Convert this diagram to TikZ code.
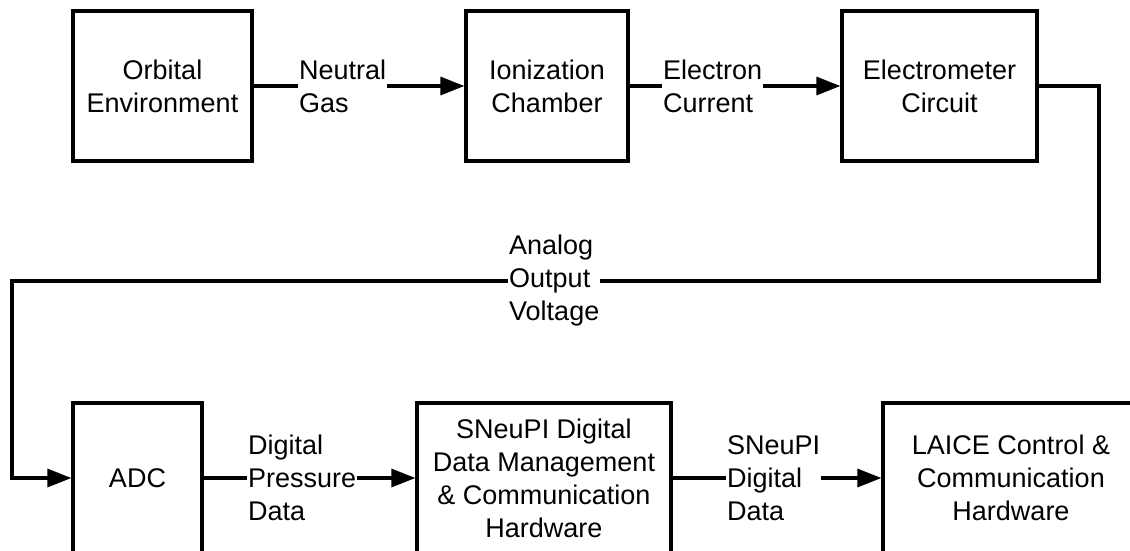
\documentclass[tikz,border=0pt]{standalone}
\usepackage{fontspec}
\setmainfont{Liberation Sans}
\usetikzlibrary{arrows.meta}
\begin{document}
\begin{tikzpicture}[x=1pt,y=-1pt,font=\fontsize{27}{33}\selectfont]

  % Definitions
  \tikzstyle{Block} = [rectangle, minimum height=150pt, text centered, align=center, draw=black, line width=3.2pt, inner sep=0pt]
  \tikzstyle{Label} = [align=left, inner sep=1pt, anchor=west]
  \tikzstyle{line} = [line width=3.2pt]
  \tikzstyle{arrow} = [line width=3.2pt,-{Triangle[length=24pt,width=18pt]}]

  \useasboundingbox (0,0) rectangle (1130,550);
  \clip (0,0) rectangle (1130,550);

  \node (Orb) [Block, minimum width=179pt] at (162.5,86) {Orbital\\Environment};
  \node (Ion) [Block, minimum width=162pt] at (547,86) {Ionization\\Chamber};
  \node (Elec) [Block, minimum width=195pt] at (939.5,86) {Electrometer\\Circuit};
  \node (ADC) [Block, minimum width=129pt] at (137.5,478) {ADC};
  \node (SDM) [Block, minimum width=254pt] at (544,478) {SNeuPI Digital\\Data Management\\\& Communication\\Hardware};
  \node (LAICE) [Block, minimum width=256pt] at (1011,478) {LAICE Control \&\\Communication\\Hardware};

  \node (gas) [Label] at (298,86) {Neutral\\Gas};
  \node (cur) [Label] at (662,86) {Electron\\Current};
  \node (volt) [Label] at (508,281) {Analog\\Output\\Voltage};
  \node (pres) [Label] at (247,478) {Digital\\Pressure\\Data};
  \node (sdat) [Label] at (726,478) {SNeuPI\\Digital\\Data};

  \coordinate (turnR) at (1099,281);
  \coordinate (turnL) at (12,281);

  \draw [line] (Orb) -- (gas);
  \draw [arrow] (gas) -- (Ion);
  \draw [line] (Ion) -- (cur);
  \draw [arrow] (cur) -- (Elec);
  \draw [line] (Elec.east) -| (turnR) -- (volt.east);
  \draw [arrow] (volt.west) -- (turnL) |- (ADC.west);
  \draw [line] (ADC) -- (pres);
  \draw [arrow] (pres) -- (SDM);
  \draw [line] (SDM) -- (sdat);
  \draw [arrow] (sdat) -- (LAICE);

\end{tikzpicture}
\end{document}
